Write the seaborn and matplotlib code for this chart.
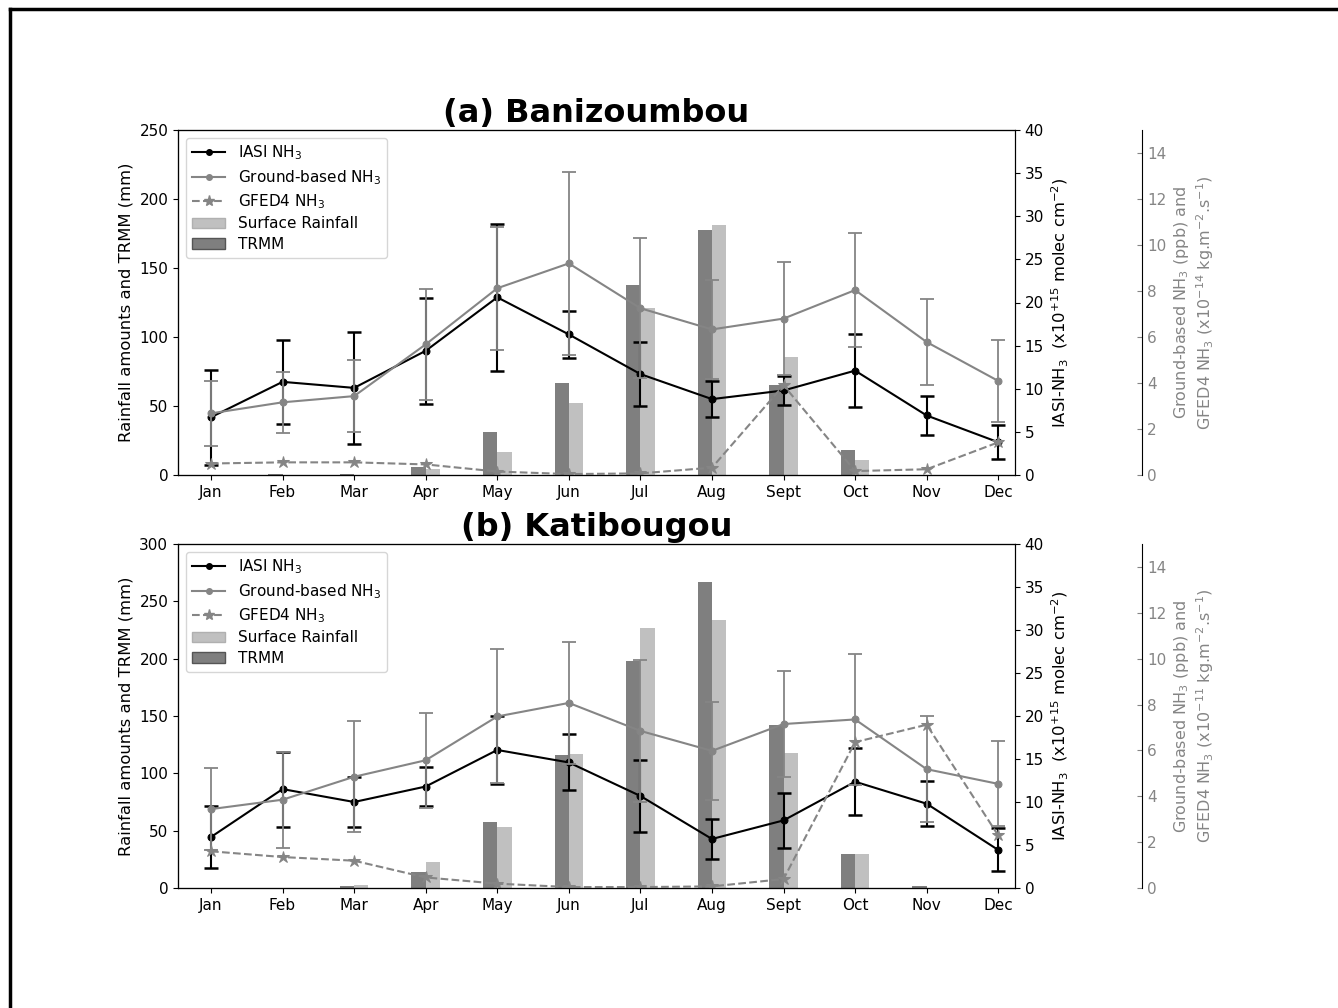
import numpy as np
import pandas as pd
import matplotlib
matplotlib.use("Agg")
import matplotlib.pyplot as plt
from matplotlib.lines import Line2D
from matplotlib.patches import Patch
import seaborn as sns

months = ["Jan", "Feb", "Mar", "Apr", "May", "Jun", "Jul", "Aug", "Sept", "Oct", "Nov", "Dec"]

# ---- (a) Banizoumbou ----
a_trmm = [0.3, 0.6, 0.4, 6, 31, 67, 138, 177.5, 65, 18, 0, 0]
a_surface = [0, 0, 0, 4.3, 16.5, 52, 121, 181, 85.5, 11, 0, 0]
a_iasi = [6.7, 10.8, 10.1, 14.4, 20.6, 16.3, 11.7, 8.8, 9.8, 12.1, 6.9, 3.8]
a_iasi_err = [5.5, 4.85, 6.5, 6.15, 8.5, 2.75, 3.7, 2.07, 1.66, 4.2, 2.22, 2.0]
a_ground = [2.68, 3.16, 3.43, 5.68, 8.12, 9.2, 7.25, 6.33, 6.8, 8.04, 5.78, 4.09]
a_ground_err = [1.42, 1.34, 1.58, 2.4, 2.67, 3.98, 3.05, 2.15, 2.45, 2.49, 1.88, 1.78]
a_gfed = [0.5, 0.55, 0.55, 0.46, 0.15, 0.04, 0.07, 0.32, 3.9, 0.17, 0.25, 1.42]

# ---- (b) Katibougou ----
b_trmm = [0, 0, 2, 13.6, 57.8, 116, 198, 267, 142, 30, 1.5, 0]
b_surface = [0, 0, 2.6, 22.7, 53.5, 116.7, 227, 234, 118, 30, 0, 0]
b_iasi = [5.93, 11.5, 10.0, 11.8, 16.05, 14.6, 10.7, 5.7, 7.86, 12.36, 9.8, 4.42]
b_iasi_err = [3.55, 4.35, 2.9, 2.3, 3.95, 3.25, 4.2, 2.3, 3.2, 3.9, 2.6, 2.5]
b_ground = [3.44, 3.85, 4.85, 5.57, 7.48, 8.07, 6.85, 5.98, 7.15, 7.35, 5.18, 4.54]
b_ground_err = [1.78, 2.1, 2.42, 2.08, 2.92, 2.65, 3.08, 2.15, 2.3, 2.85, 2.3, 1.85]
b_gfed = [1.6, 1.35, 1.19, 0.46, 0.19, 0.04, 0.04, 0.07, 0.39, 6.36, 7.12, 2.29]

titles = ["(a) Banizoumbou", "(b) Katibougou"]
left_ylims = [(0, 250), (0, 300)]
gfed_exp = ["-14", "-11"]

DARK = "#7f7f7f"
LIGHT = "#c0c0c0"
GRAY = "#858585"

W, H = 1338, 1008
fig = plt.figure(figsize=(W / 100, H / 100), dpi=100)

panels = [
    dict(trmm=a_trmm, surf=a_surface, iasi=a_iasi, iasi_err=a_iasi_err,
         ground=a_ground, ground_err=a_ground_err, gfed=a_gfed,
         box=(178, 130, 1015, 475)),
    dict(trmm=b_trmm, surf=b_surface, iasi=b_iasi, iasi_err=b_iasi_err,
         ground=b_ground, ground_err=b_ground_err, gfed=b_gfed,
         box=(178, 544, 1015, 888)),
]

x = np.arange(len(months))
XLIM = (-0.461, 11.234)
TICK_FS = 11
LABEL_FS = 11.8

for i, p in enumerate(panels):
    x0, y0, x1, y1 = p["box"]
    ax = fig.add_axes([x0 / W, 1 - y1 / H, (x1 - x0) / W, (y1 - y0) / H])

    df = pd.DataFrame({
        "month": months * 2,
        "rain": list(p["trmm"]) + list(p["surf"]),
        "source": ["TRMM"] * 12 + ["Surface Rainfall"] * 12,
    })
    sns.barplot(data=df, x="month", y="rain", hue="source", order=months,
                hue_order=["TRMM", "Surface Rainfall"],
                palette={"TRMM": DARK, "Surface Rainfall": LIGHT},
                width=0.4, saturation=1, legend=False, ax=ax, errorbar=None)
    for bar in ax.patches:
        bar.set_edgecolor("none")
    ax.set_xlim(*XLIM)
    ax.set_ylim(*left_ylims[i])
    ax.set_xlabel("")
    ax.set_ylabel("Rainfall amounts and TRMM (mm)", fontsize=LABEL_FS)
    ax.tick_params(labelsize=TICK_FS)
    ax.set_title(titles[i], fontsize=23, fontweight="bold", pad=6)

    # IASI axis
    ax2 = ax.twinx()
    sns.lineplot(x=x, y=p["iasi"], ax=ax2, color="black", marker="o",
                 markersize=5, markeredgecolor="black", linewidth=1.5)
    ax2.errorbar(x, p["iasi"], yerr=p["iasi_err"], fmt="none", ecolor="black",
                 elinewidth=1.5, capsize=5, capthick=1.8)
    ax2.set_ylim(0, 40)
    ax2.set_yticks(np.arange(0, 41, 5))
    ax2.tick_params(labelsize=TICK_FS)
    ax2.set_ylabel(r"IASI-NH$_3$  (x10$^{+15}$ molec cm$^{-2}$)", fontsize=LABEL_FS)

    # ground-based / GFED4 axis
    ax3 = ax.twinx()
    ax3.spines["right"].set_position(("axes", 1.152))
    sns.lineplot(x=x, y=p["ground"], ax=ax3, color=GRAY, marker="o",
                 markersize=5, markeredgecolor=GRAY, linewidth=1.5)
    ax3.errorbar(x, p["ground"], yerr=p["ground_err"], fmt="none", ecolor=GRAY,
                 elinewidth=1.3, capsize=5, capthick=1.3)
    sns.lineplot(x=x, y=p["gfed"], ax=ax3, color=GRAY, marker="*",
                 markersize=9, markeredgecolor=GRAY, linewidth=1.5,
                 linestyle="--")
    ax3.set_ylim(0, 15)
    ax3.set_yticks(np.arange(0, 15, 2))
    ax3.tick_params(axis="y", colors=GRAY, labelsize=TICK_FS, direction="in")
    ax3.set_ylabel("Ground-based NH$_3$ (ppb) and\nGFED4 NH$_3$ (x10$^{"
                   + gfed_exp[i] + r"}$ kg.m$^{-2}$.s$^{-1}$)",
                   fontsize=LABEL_FS - 0.3, color=GRAY)
    ax2.set_xlim(*XLIM)
    ax3.set_xlim(*XLIM)

    handles = [
        Line2D([], [], color="black", marker="o", markersize=4, lw=1.5),
        Line2D([], [], color=GRAY, marker="o", markersize=4, lw=1.5),
        Line2D([], [], color=GRAY, marker="*", markersize=8, lw=1.5, ls="--"),
        Patch(facecolor=LIGHT, edgecolor="#b0b0b0"),
        Patch(facecolor=DARK, edgecolor="#555555"),
    ]
    labels = [r"IASI NH$_3$", r"Ground-based NH$_3$", r"GFED4 NH$_3$",
              "Surface Rainfall", "TRMM"]
    ax3.legend(handles, labels, loc="upper left", fontsize=11,
               handlelength=2.2, labelspacing=0.36, borderaxespad=0.5)

# figure frame (top and left edges)
fig.add_artist(Line2D([10 / W, 10 / W], [0, 1 - 9 / H], transform=fig.transFigure,
                      color="black", lw=2.5))
fig.add_artist(Line2D([10 / W, 1], [1 - 9 / H, 1 - 9 / H], transform=fig.transFigure,
                      color="black", lw=2.5))

fig.savefig("out.png", dpi=100)
